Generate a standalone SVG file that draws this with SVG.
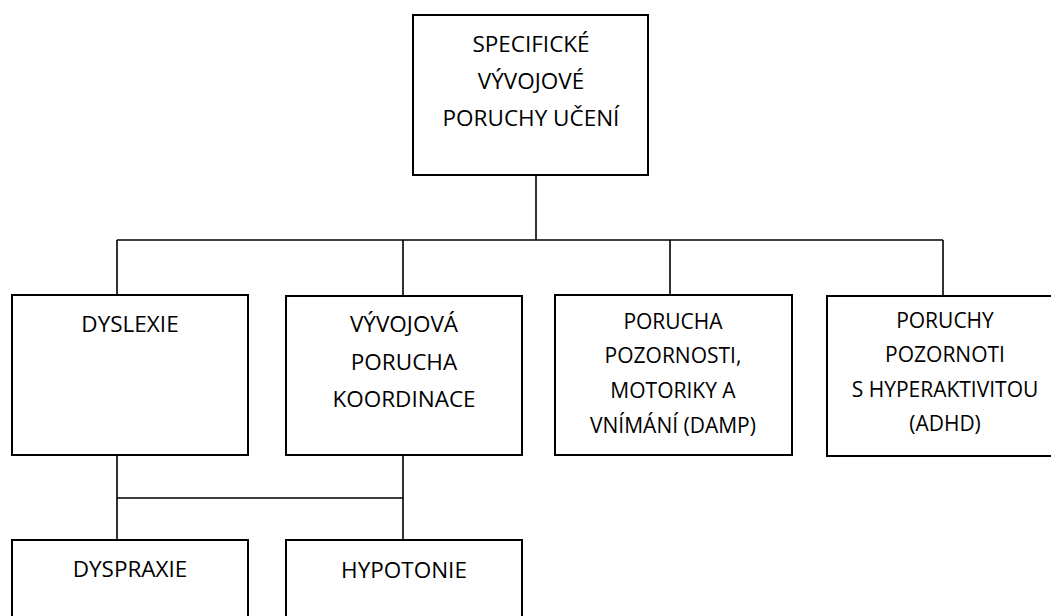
<svg xmlns="http://www.w3.org/2000/svg" width="1051" height="616" viewBox="0 0 1051 616">
<style>
.box{fill:#fff;stroke:#000;stroke-width:2}
.ln{fill:none;stroke:#000;stroke-width:1.6}
text{font-family:"Open Sans","Noto Sans",sans-serif;fill:#000;text-anchor:middle}
.t{font-size:22.5px}
.s{font-size:21px}
</style>
<rect width="1051" height="616" fill="#fff"/>
<g id="connectors">
<path class="ln" d="M536 175V240M117 240H943M117 240V295M403 240V296M670 240V295M943 240V296"/>
<path class="ln" d="M117 455V540M403 455V540M117 498H403"/>
</g>
<g id="n-root">
<rect class="box" x="413" y="15" width="235" height="160"/>
<text class="t" x="531" y="52">SPECIFICKÉ</text>
<text class="t" x="531" y="89">VÝVOJOVÉ</text>
<text class="t" x="531" y="126">PORUCHY UČENÍ</text>
</g>
<g id="n-dyslexie">
<rect class="box" x="12" y="295" width="236" height="160"/>
<text class="t" x="130" y="332">DYSLEXIE</text>
</g>
<g id="n-koordinace">
<rect class="box" x="286" y="296" width="236" height="159"/>
<text class="t" x="404" y="332">VÝVOJOVÁ</text>
<text class="t" x="404" y="370">PORUCHA</text>
<text class="t" x="404" y="407">KOORDINACE</text>
</g>
<g id="n-damp">
<rect class="box" x="555" y="295" width="237" height="160"/>
<text class="s" x="673" y="329">PORUCHA</text>
<text class="s" x="673" y="363">POZORNOSTI,</text>
<text class="s" x="673" y="398">MOTORIKY A</text>
<text class="s" x="673" y="433">VNÍMÁNÍ (DAMP)</text>
</g>
<g id="n-adhd">
<rect class="box" x="827" y="296" width="236" height="160"/>
<text class="s" x="945" y="328">PORUCHY</text>
<text class="s" x="945" y="362">POZORNOTI</text>
<text class="s" x="945" y="397">S HYPERAKTIVITOU</text>
<text class="s" x="945" y="431">(ADHD)</text>
</g>
<g id="n-dyspraxie">
<rect class="box" x="12" y="540" width="236" height="160"/>
<text class="t" x="130" y="577">DYSPRAXIE</text>
</g>
<g id="n-hypotonie">
<rect class="box" x="286" y="540" width="236" height="160"/>
<text class="t" x="404" y="578">HYPOTONIE</text>
</g>
</svg>
